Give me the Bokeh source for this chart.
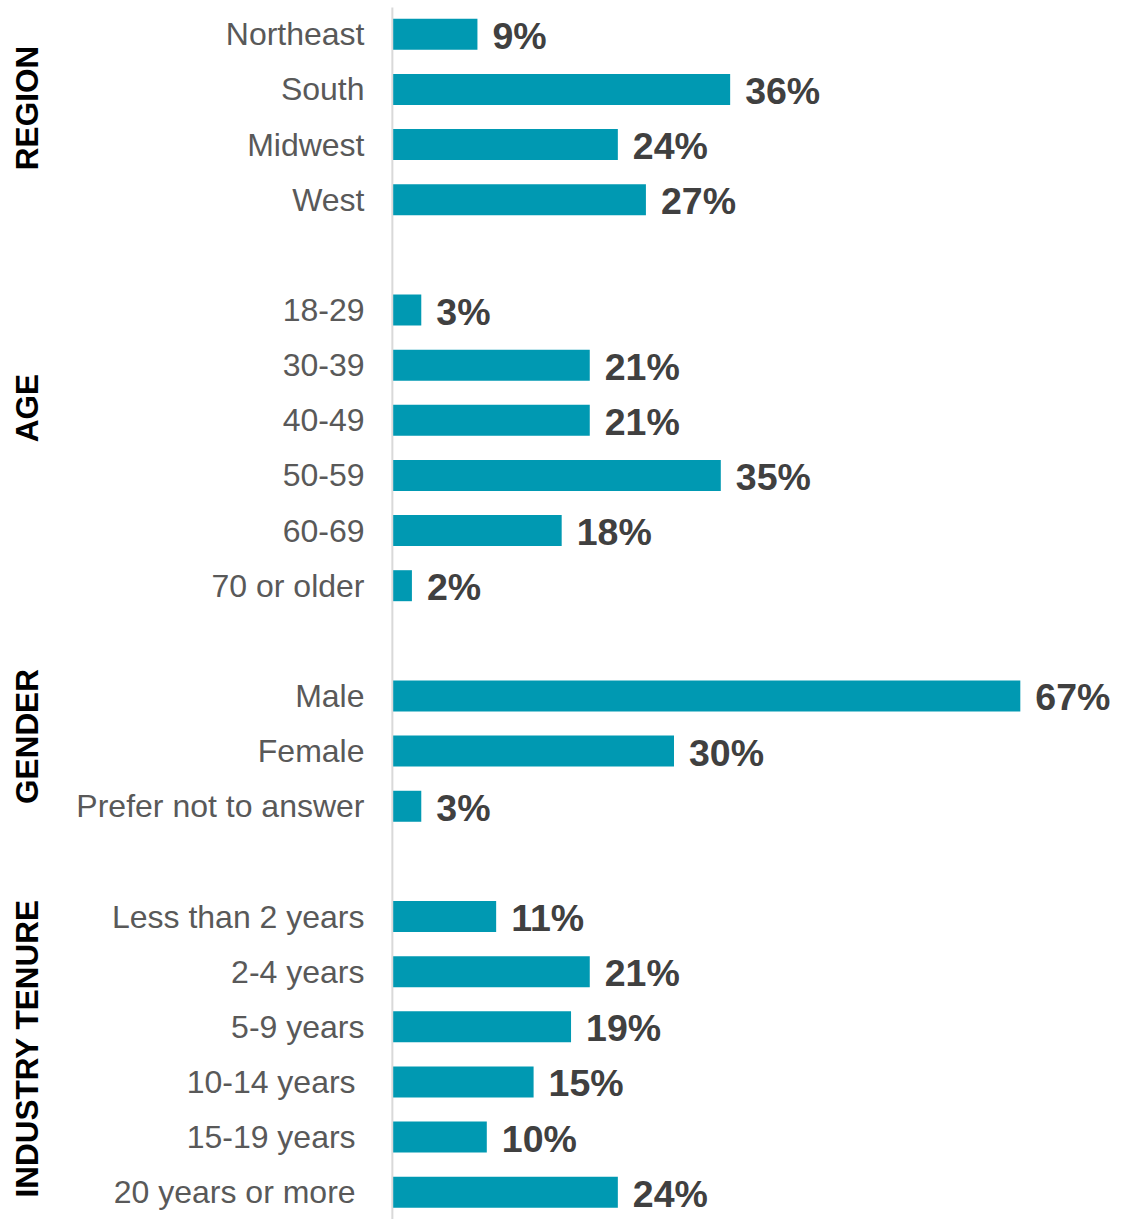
import math
from bokeh.plotting import figure
from bokeh.models import ColumnDataSource, Range1d, Label
from bokeh.core.properties import value
from bokeh.embed import file_html
from bokeh.resources import INLINE

# ---- data ----
group_titles = ["REGION", "AGE", "GENDER", "INDUSTRY TENURE"]
region_labels = ["Northeast", "South", "Midwest", "West"]
region_values = [9, 36, 24, 27]
age_labels = ["18-29", "30-39", "40-49", "50-59", "60-69", "70 or older"]
age_values = [3, 21, 21, 35, 18, 2]
gender_labels = ["Male", "Female", "Prefer not to answer"]
gender_values = [67, 30, 3]
tenure_labels = ["Less than 2 years", "2-4 years", "5-9 years",
                 "10-14 years\u00a0", "15-19 years\u00a0", "20 years or more\u00a0"]
tenure_values = [11, 21, 19, 15, 10, 24]

groups = [(region_labels, region_values), (age_labels, age_values),
          (gender_labels, gender_values), (tenure_labels, tenure_values)]

ys, labels, vals, texts = [], [], [], []
row = 0
for gi, (labs, vs) in enumerate(groups):
    for l, v in zip(labs, vs):
        ys.append(-row)
        labels.append(l)
        vals.append(v)
        texts.append(f"{v}%")
        row += 1
    row += 1  # blank row between groups

src = ColumnDataSource(dict(y=ys, label=labels, val=vals, text=texts))

W, H = 1122, 1219
x0_px = 392.7
px_per_unit = 9.36
row_px = 55.14
top_px = 33.8

p = figure(width=W, height=H, output_backend="svg", toolbar_location=None,
           x_axis_type=None, y_axis_type=None, min_border=0,
           x_range=Range1d(-x0_px / px_per_unit, (W - x0_px) / px_per_unit),
           y_range=Range1d(-(H - top_px) / row_px, top_px / row_px))
p.outline_line_color = None
p.grid.visible = False
p.background_fill_color = "white"
p.border_fill_color = "white"

# vertical axis line
p.segment(x0=[-0.09], y0=[top_px / row_px - 7 / row_px], x1=[-0.09],
          y1=[-(H - top_px) / row_px], line_color="#d9d9d9", line_width=2)

p.hbar(y="y", left=0, right="val", height=31 / row_px, source=src,
       fill_color="#0099B2", line_color=None)

p.text(x=0, y="y", text="label", source=src, x_offset=-28.7,
       text_align="right", text_baseline="middle",
       text_font=value("Liberation Sans"), text_font_size="32px",
       text_color="#595959")

p.text(x="val", y="y", text="text", source=src, x_offset=15, y_offset=1.5,
       text_align="left", text_baseline="middle",
       text_font=value("Liberation Sans"), text_font_size="37.5px",
       text_font_style="bold", text_color="#404040")

title_y_px = [107.5, 407.5, 736, 1048]
for t, ty in zip(group_titles, title_y_px):
    p.add_layout(Label(x=26, y=H - ty, x_units="screen", y_units="screen",
                       text=t, angle=math.pi / 2, text_align="center",
                       text_baseline="middle", text_font="Liberation Sans",
                       text_font_size="31.5px", text_font_style="bold",
                       text_color="black"))

open("out.html", "w").write(file_html(p, INLINE))
